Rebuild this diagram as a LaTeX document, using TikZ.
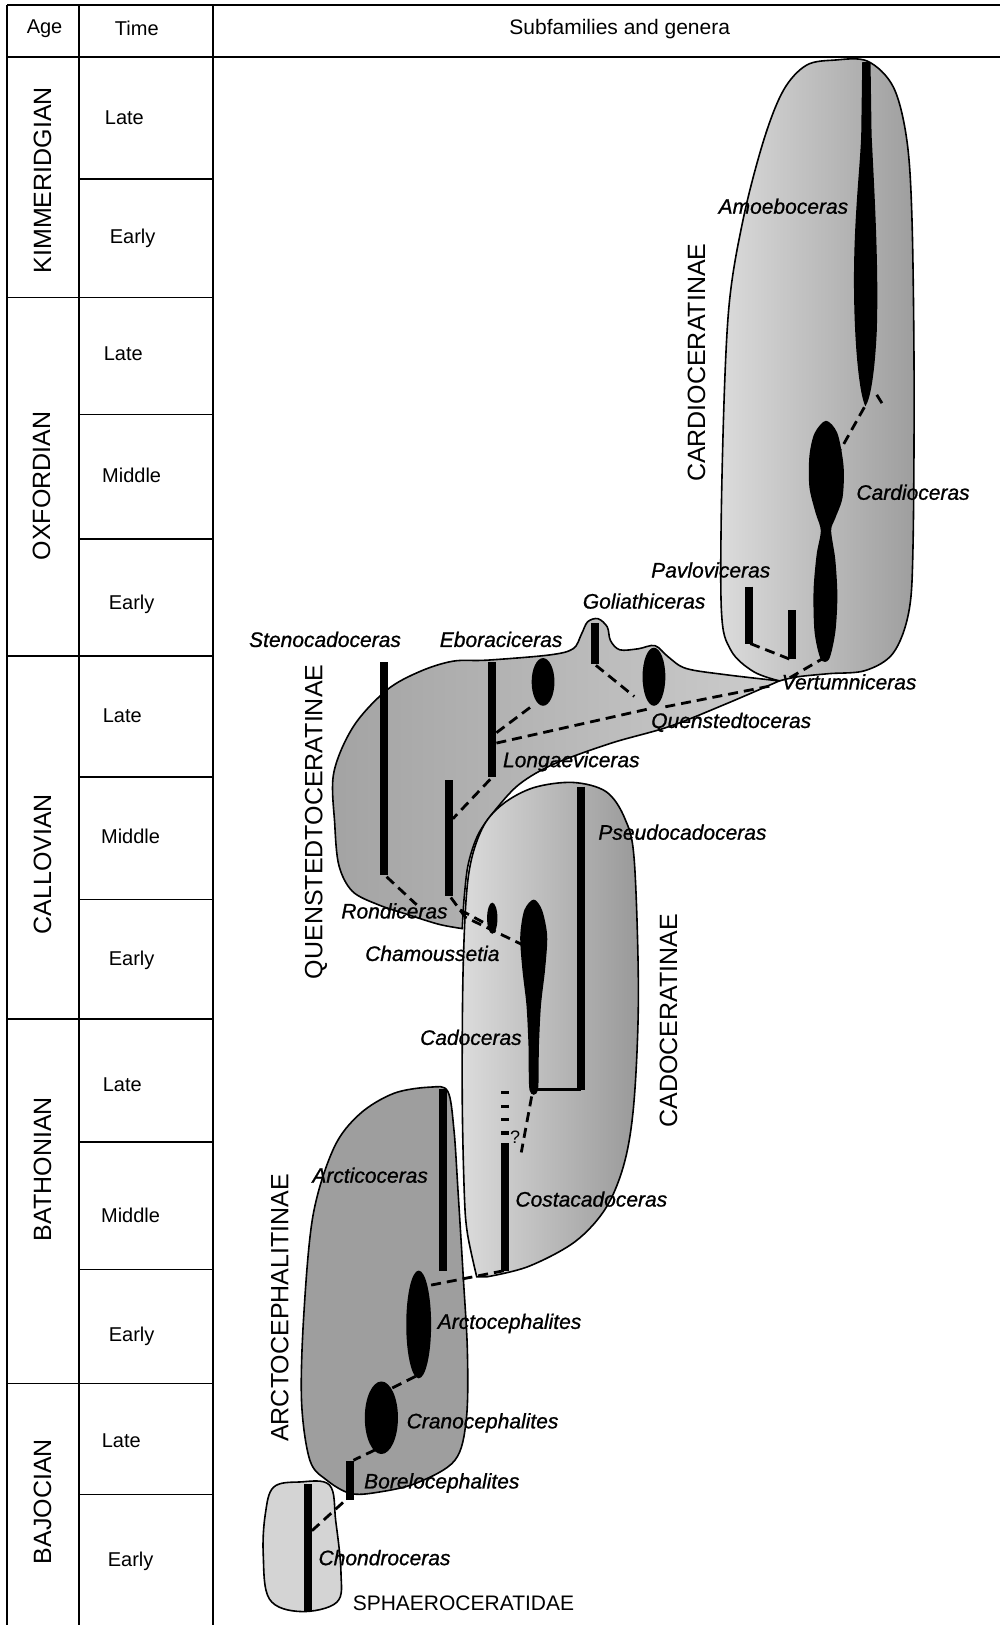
\documentclass[tikz,border=0pt]{standalone}
\usepackage{fontspec}
\setmainfont{Liberation Sans}
\newfontfamily\genusfont[FakeBold=0.9]{Liberation Sans}
\begin{document}
\begin{tikzpicture}[x=0.51813pt,y=-0.51813pt,
  tline/.style={line width=0.9pt},
  tabtxt/.style={font=\fontsize{10}{12}\selectfont, inner sep=0pt},
  hdrtxt/.style={font=\fontsize{10.5}{12}\selectfont, inner sep=0pt},
  agetxt/.style={font=\fontsize{12.5}{14}\selectfont, rotate=90, inner sep=0pt},
  subfam/.style={font=\fontsize{12.5}{14}\selectfont, rotate=90, inner sep=0pt},
  genus/.style={font=\genusfont\fontsize{10.5}{12}\selectfont\itshape, anchor=west, inner sep=0pt},
  famtxt/.style={font=\fontsize{10.5}{12}\selectfont, anchor=west, inner sep=0pt},
  blob/.style={draw=black, line width=0.8pt},
  genbar/.style={line width=4pt},
  lineage/.style={line width=1.4pt, dash pattern=on 5pt off 3pt},
]
\useasboundingbox (0,0) rectangle (965,1568);
\fill[white] (0,0) rectangle (965,1568);

% ---------------- table ----------------
\draw[tline] (7,5) -- (965,5);
\draw[tline] (7,55) -- (965,55);
\draw[tline] (7,5) -- (7,1568);
\draw[tline] (76,5) -- (76,1568);
\draw[tline] (205.5,5) -- (205.5,1568);
\foreach \yy in {287,633,983,1335} \draw[tline] (7,\yy) -- (205.5,\yy);
\foreach \yy in {173,400,520,750,868,1102,1225,1442} \draw[tline] (76,\yy) -- (205.5,\yy);

\node[tabtxt] (hage) at (43,28) {Age};
\node[tabtxt] (htime) at (132,27) {Time};
\node[hdrtxt] (hsub) at (598,28) {Subfamilies and genera};

\node[agetxt] (kim) at (41,174) {KIMMERIDGIAN};
\node[agetxt] (oxf) at (40,469) {OXFORDIAN};
\node[agetxt] (cal) at (41,834) {CALLOVIAN};
\node[agetxt] (bat) at (41,1128) {BATHONIAN};
\node[agetxt] (baj) at (41,1449) {BAJOCIAN};

\node[tabtxt] (t1) at (120,114) {Late};
\node[tabtxt] (t2) at (128,230) {Early};
\node[tabtxt] (t3) at (119,341) {Late};
\node[tabtxt] (t4) at (127,459) {Middle};
\node[tabtxt] (t5) at (127,583) {Early};
\node[tabtxt] (t6) at (118,691) {Late};
\node[tabtxt] (t7) at (126,807) {Middle};
\node[tabtxt] (t8) at (127,927) {Early};
\node[tabtxt] (t9) at (118,1047) {Late};
\node[tabtxt] (t10) at (126,1173) {Middle};
\node[tabtxt] (t11) at (127,1289) {Early};
\node[tabtxt] (t12) at (117,1390) {Late};
\node[tabtxt] (t13) at (126,1507) {Early};

% ---------------- subfamily envelopes ----------------
% Cardioceratinae
\path[blob, left color=black!14, right color=black!38]
  plot[smooth, tension=0.55] coordinates {(752,657) (727,648) (705,627) (696,587) (697,445) (703,300) (717,212) (737,135) (756,87) (778,63) (805,58) (837,59) (862,84) (875,135) (880,212) (882,363) (881,526) (877,590) (862,630) (835,647) (800,650) (770,653) (752,657)} -- cycle;
% Quenstedtoceratinae
\path[blob, left color=black!36, right color=black!20]
  plot[smooth, tension=0.55] coordinates {(752,657) (700,651) (662,645) (645,634) (632,623) (616,626) (598,627) (589,618) (586,605) (577,597) (567,600) (561,612) (553,626) (530,632) (470,637) (437,638) (405,648) (373,666) (341,701) (322,746) (323,795) (327,835) (340,860) (365,873) (395,883) (424,892) (446,896)}
  -- plot[smooth, tension=0.55] coordinates {(446,896) (448,865) (452,833) (462,804) (480,779) (502,756) (535,737) (590,717) (646,701) (701,679) (752,657)} -- cycle;
% Arctocephalitinae
\path[blob, fill=black!38]
  plot[smooth cycle, tension=0.55] coordinates {(415,1049) (432,1053) (438,1090) (442,1150) (447,1232) (451,1304) (450,1369) (439,1409) (402,1431) (364,1440) (338,1441) (315,1428) (299,1409) (291,1353) (293,1271) (302,1173) (322,1108) (347,1075) (380,1055)};
% Cadoceratinae
\path[blob, left color=black!14, right color=black!40]
  plot[smooth, tension=0.55] coordinates {(460,1232) (451,1190) (448,1151) (446,1055) (447,930) (452,845) (465,800) (485,776) (515,760) (553,755) (585,764) (603,790) (612,830) (616,958) (612,1060) (603,1120) (585,1165) (555,1198) (510,1222) (470,1232)} -- cycle;
% Sphaeroceratidae
\path[blob, fill=black!17]
  plot[smooth cycle, tension=0.6] coordinates {(264,1435) (289,1430) (318,1433) (324,1468) (329,1517) (325,1546) (290,1555) (260,1543) (254,1500) (256,1461)};

% ---------------- genera (black ranges) ----------------
% Cardioceratinae
\fill (832,60) -- (840,60) -- (841,130) .. controls (844,190) and (848,260) .. (846,320)
  .. controls (844,360) and (840,385) .. (835,392)
  .. controls (829,380) and (824,330) .. (824,270)
  .. controls (824,210) and (830,160) .. (831,130) -- cycle;
\fill plot[smooth cycle, tension=0.5] coordinates {(797,406) (808,418) (814,450) (813,480) (806,500) (802,512) (806,540) (808,575) (806,610) (800,636) (792,636) (786,610) (785,570) (788,535) (792,512) (787,495) (781,470) (781,440) (786,418)};
\draw[genbar] (723,566) -- (723,621);
\draw[genbar] (764,589) -- (764,636);
% Quenstedtoceratinae
\draw[genbar] (371,639) -- (371,844);
\draw[genbar] (433,753) -- (433,865);
\draw[genbar] (475,639) -- (475,750);
\fill (524,658) ellipse [x radius=11, y radius=23];
\draw[genbar] (574,601) -- (574,641);
\fill (631,653) ellipse [x radius=11, y radius=28];
% Cadoceratinae
\draw[genbar] (561,759) -- (561,1052);
\fill plot[smooth cycle, tension=0.5] coordinates {(515,868) (523,878) (528,903) (526,935) (522,970) (520,1010) (519,1052) (511,1052) (510,1010) (508,970) (504,935) (502,903) (506,878)};
\draw[line width=1.5pt] (511,1051) -- (561,1051);
\fill (475,886) ellipse [x radius=5, y radius=15];
\draw[genbar] (487,1103) -- (487,1226);
\draw[genbar, dash pattern=on 1.6pt off 5.1pt] (487,1053) -- (487,1100);
% Arctocephalitinae
\draw[genbar] (427,1051) -- (427,1226);
\fill (404,1278) ellipse [x radius=12, y radius=52];
\fill (368,1368) ellipse [x radius=16, y radius=35];
\draw[genbar] (338,1410) -- (338,1447);
% Sphaeroceratidae
\draw[genbar] (297,1432) -- (297,1555);

% ---------------- lineage connectors ----------------
\coordinate (amoBot) at (834,393);
\coordinate (carTop) at (811,434);
\coordinate (amoMk1) at (846,381);
\coordinate (amoMk2) at (851,389);
\coordinate (pavBot) at (724,621);
\coordinate (barBot) at (762,636);
\coordinate (verTip) at (762,654);
\coordinate (carBot) at (793,636);
\coordinate (golBot) at (575,642);
\coordinate (queL) at (612,672);
\coordinate (lonA) at (479,707);
\coordinate (eboB) at (515,680);
\coordinate (lonB) at (479,717);
\coordinate (queB) at (626,684);
\coordinate (queR) at (642,682);
\coordinate (tipQ) at (748,661);
\coordinate (lonBot) at (473,752);
\coordinate (ronTop) at (437,790);
\coordinate (steBot) at (373,846);
\coordinate (steEnd) at (402,873);
\coordinate (ronBot) at (435,866);
\coordinate (ronMid) at (449,885);
\coordinate (cadL) at (505,912);
\coordinate (ronB2) at (444,878);
\coordinate (chaL) at (472,893);
\coordinate (cadBot) at (513,1058);
\coordinate (cosTop) at (503,1112);
\coordinate (arcTop) at (416,1240);
\coordinate (cosBot) at (487,1226);
\coordinate (arcBot) at (401,1328);
\coordinate (craTop) at (377,1340);
\coordinate (craBot) at (362,1399);
\coordinate (borTop) at (341,1409);
\coordinate (choMid) at (301,1477);
\coordinate (borBot) at (334,1447);

\draw[lineage] (amoBot) -- (carTop);
\draw[line width=1.4pt] (amoMk1) -- (amoMk2);
\draw[lineage] (pavBot) -- (barBot);
\draw[lineage] (verTip) -- (carBot);
\draw[lineage] (golBot) -- (queL);
\draw[lineage] (lonA) -- (eboB);
\draw[lineage] (lonB) -- (queB);
\draw[lineage] (queR) -- (tipQ);
\draw[lineage] (lonBot) -- (ronTop);
\draw[lineage] (steBot) -- (steEnd);
\draw[lineage] (ronBot) -- (ronMid) -- (cadL);
\draw[lineage] (ronB2) -- (chaL);
\draw[lineage] (cadBot) -- (cosTop);
\draw[lineage] (arcTop) -- (cosBot);
\draw[lineage] (arcBot) -- (craTop);
\draw[lineage] (craBot) -- (borTop);
\draw[lineage] (choMid) -- (borBot);

% ---------------- labels ----------------
\node[subfam] (sCar) at (672,350) {CARDIOCERATINAE};
\node[subfam] (sQue) at (305,793) {QUENSTEDTOCERATINAE};
\node[subfam] (sCad) at (645,985) {CADOCERATINAE};
\node[subfam] (sArc) at (270,1262) {ARCTOCEPHALITINAE};
\node[famtxt] (sSph) at (340,1547) {SPHAEROCERATIDAE};

\node[genus] (gAmo) at (693,199) {Amoeboceras};
\node[genus] (gCar) at (826,475) {Cardioceras};
\node[genus] (gPav) at (628,550) {Pavloviceras};
\node[genus] (gGol) at (562,580) {Goliathiceras};
\node[genus] (gVer) at (754,658) {Vertumniceras};
\node[genus] (gQue) at (628,697) {Quenstedtoceras};
\node[genus] (gSte) at (240,617) {Stenocadoceras};
\node[genus] (gEbo) at (424,617) {Eboraciceras};
\node[genus] (gLon) at (485,735) {Longaeviceras};
\node[genus] (gPse) at (577,803) {Pseudocadoceras};
\node[genus] (gRon) at (329,879) {Rondiceras};
\node[genus] (gCha) at (352,920) {Chamoussetia};
\node[genus] (gCad) at (405,1001) {Cadoceras};
\node[genus] (gCos) at (497,1157) {Costacadoceras};
\node[genus] (gArc) at (301,1134) {Arcticoceras};
\node[genus] (gArt) at (422,1277) {Arctocephalites};
\node[genus] (gCra) at (392,1373) {Cranocephalites};
\node[genus] (gBor) at (351,1431) {Borelocephalites};
\node[genus] (gCho) at (307,1503) {Chondroceras};
\node[font=\fontsize{9}{10}\selectfont, inner sep=0pt] (qmark) at (497,1097) {?};
\end{tikzpicture}
\end{document}
